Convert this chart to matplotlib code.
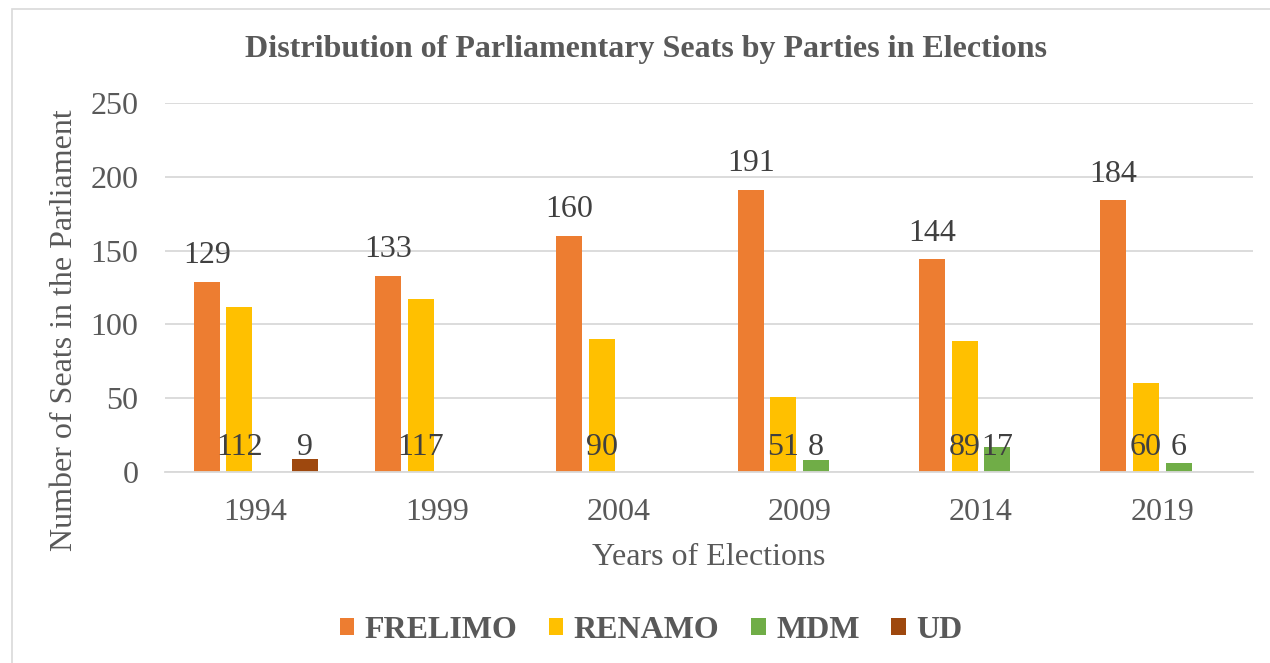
import matplotlib
matplotlib.use("Agg")
import matplotlib.pyplot as plt
from matplotlib.patches import Rectangle
import numpy as np

years = ["1994", "1999", "2004", "2009", "2014", "2019"]
frelimo = [129, 133, 160, 191, 144, 184]
renamo = [112, 117, 90, 51, 89, 60]
mdm = [None, None, None, 8, 17, 6]
ud = [9, None, None, None, None, None]
series_names = ["FRELIMO", "RENAMO", "MDM", "UD"]
colors = ["#ED7D31", "#FFC000", "#70AD47", "#9E480E"]

plt.rcParams['font.family'] = ['Liberation Serif', 'DejaVu Serif']

fig = plt.figure(figsize=(12.7, 6.63), dpi=100)
fig.patches.append(Rectangle((12/1270, -0.01), 1.2, 1 - 9/663 + 0.01, transform=fig.transFigure,
                             fill=False, edgecolor="#D9D9D9", linewidth=1.2))
ax = fig.add_axes([165/1270, 191/663, (1253-165)/1270, (560-191)/663])

x = np.arange(len(years))
step = 0.18
width = 0.143
all_series = [frelimo, renamo, mdm, ud]
for i, (vals, name, col) in enumerate(zip(all_series, series_names, colors)):
    pos = x + (i - 1.5) * step
    v = np.array([np.nan if a is None else a for a in vals], dtype=float)
    ax.bar(pos, np.nan_to_num(v), width, color=col, label=name, zorder=2)
    for p, a in zip(pos, vals):
        if a is None:
            continue
        if i == 0:
            ax.annotate(str(a), (p, a), xytext=(0, 13.4), textcoords='offset points',
                        ha='center', va='baseline', fontsize=23, color='#404040')
        else:
            ax.text(p, 11.5, str(a), ha='center', va='baseline', fontsize=23, color='#404040')

ax.set_ylim(0, 250)
ax.set_xlim(-0.5, len(years) - 0.5)
ax.set_yticks([0, 50, 100, 150, 200, 250])
ax.set_xticks(x)
ax.set_xticklabels(years)
ax.yaxis.grid(True, color="#D9D9D9", linewidth=1.3, zorder=0)
ax.set_axisbelow(True)
for s in ['top', 'right', 'left']:
    ax.spines[s].set_visible(False)
ax.spines['bottom'].set_color("#D9D9D9")
ax.spines['bottom'].set_linewidth(1.3)
ax.tick_params(axis='both', length=0, labelsize=23, labelcolor='#595959')
ax.tick_params(axis='y', pad=19)
ax.tick_params(axis='x', pad=19)

ax.set_xlabel("Years of Elections", fontsize=23, color='#595959', labelpad=11)
fig.text(65/1270, 1 - 330/663, "Number of Seats in the Parliament", rotation=90,
         ha='center', va='center', fontsize=23, color='#595959')
fig.text(646/1270, 1 - 50/663, "Distribution of Parliamentary Seats by Parties in Elections",
         ha='center', va='center', fontsize=23, fontweight='bold', color='#595959')

leg = fig.legend(loc='center', bbox_to_anchor=(651/1270, 1 - 630/663), ncol=4, frameon=False,
                 prop={'size': 23, 'weight': 'bold'}, handlelength=0.45, handleheight=0.45,
                 handletextpad=0.32, columnspacing=1.0)
for t in leg.get_texts():
    t.set_color('#595959')

fig.savefig("out.png", dpi=100)
